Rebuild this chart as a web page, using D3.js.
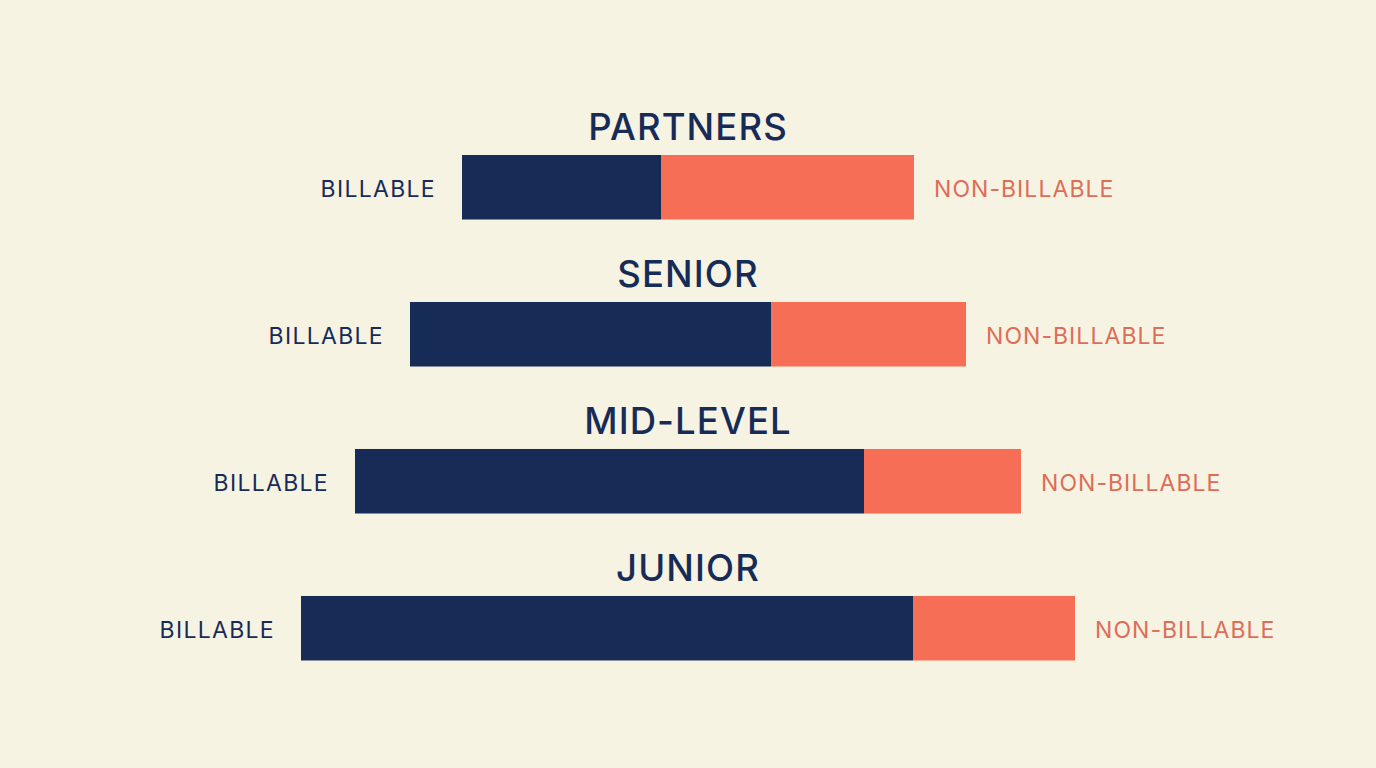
<!DOCTYPE html>
<html>
<head>
<meta charset="utf-8">
<script src="https://cdnjs.cloudflare.com/ajax/libs/d3/7.8.5/d3.min.js"></script>
<style>
html, body { margin: 0; padding: 0; background: #f7f3e3; }
svg { display: block; }
text { font-family: Inter, "Open Sans", sans-serif; }
</style>
</head>
<body>
<svg id="chart" width="1376" height="768"></svg>
<script>
var levels = ["PARTNERS", "SENIOR", "MID-LEVEL", "JUNIOR"];
var billable = [199, 361, 509, 612];
var nonBillable = [253, 195, 157, 162];

var navy = "#162c57";
var coral = "#f66e56";
var coralText = "#dd6d57";

var rows = levels.map(function(name, i) {
    return {name: name, billable: billable[i], nonBillable: nonBillable[i]};
});

var svg = d3.select("#chart");

var x = d3.scaleLinear().domain([0, 1376]).range([0, 1376]);
var y = d3.scaleBand().domain(levels).range([155, 660.5]).paddingInner(0.561);
var mid = 688;

function left(d) { return x(mid - (d.billable + d.nonBillable) / 2); }
function split(d) { return left(d) + x(d.billable); }
function right(d) { return split(d) + x(d.nonBillable); }

var row = svg.selectAll("g.row")
    .data(rows).enter()
    .append("g")
    .attr("class", "row");

row.append("rect")
    .attr("x", left)
    .attr("y", function(d) { return y(d.name); })
    .attr("width", function(d) { return x(d.billable); })
    .attr("height", y.bandwidth())
    .attr("fill", navy);

row.append("rect")
    .attr("x", split)
    .attr("y", function(d) { return y(d.name); })
    .attr("width", function(d) { return x(d.nonBillable); })
    .attr("height", y.bandwidth())
    .attr("fill", coral);

row.append("text")
    .attr("x", mid)
    .attr("y", function(d) { return y(d.name) - 15; })
    .attr("text-anchor", "middle")
    .attr("font-size", 36.5)
    .attr("font-weight", 500)
    .attr("letter-spacing", 1.1)
    .attr("fill", navy)
    .text(function(d) { return d.name; });

row.append("text")
    .attr("x", function(d) { return left(d) - 26; })
    .attr("y", function(d) { return y(d.name) + y.bandwidth() / 2 + 10; })
    .attr("text-anchor", "end")
    .attr("font-size", 23)
    .attr("letter-spacing", 1.3)
    .attr("fill", navy)
    .text("BILLABLE");

row.append("text")
    .attr("x", function(d) { return right(d) + 20; })
    .attr("y", function(d) { return y(d.name) + y.bandwidth() / 2 + 10; })
    .attr("font-size", 23)
    .attr("letter-spacing", 1.05)
    .attr("fill", coralText)
    .text("NON-BILLABLE");
</script>
</body>
</html>
